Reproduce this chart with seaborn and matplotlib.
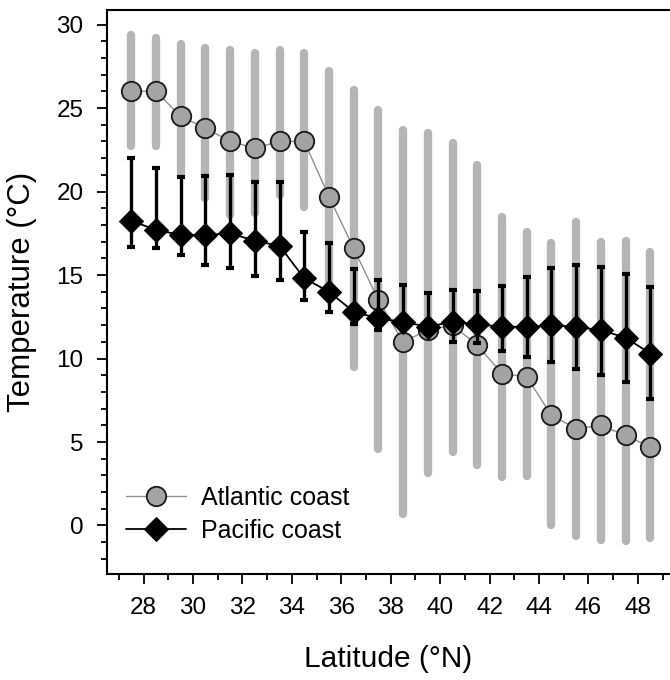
import numpy as np
import seaborn as sns
import matplotlib.pyplot as plt
from matplotlib.ticker import MultipleLocator

# Latitude bins (°N)
latitude = [27.5, 28.5, 29.5, 30.5, 31.5, 32.5, 33.5, 34.5, 35.5, 36.5, 37.5,
            38.5, 39.5, 40.5, 41.5, 42.5, 43.5, 44.5, 45.5, 46.5, 47.5, 48.5]

# Atlantic coast: mean and range
atl_mean = [26.0, 26.0, 24.5, 23.8, 23.0, 22.6, 23.0, 23.0, 19.7, 16.6, 13.5,
            11.0, 11.7, 12.0, 10.8, 9.1, 8.9, 6.6, 5.8, 6.0, 5.4, 4.7]
atl_max = [29.4, 29.2, 28.85, 28.6, 28.45, 28.3, 28.45, 28.3, 27.2, 26.1, 24.9,
           23.7, 23.5, 22.9, 21.6, 18.5, 17.6, 16.9, 18.2, 16.95, 17.05, 16.35]
atl_min = [22.7, 22.7, 21.1, 19.6, 18.6, 18.7, 19.8, 19.1, 14.2, 9.5, 4.6,
           0.66, 3.15, 4.4, 3.6, 2.9, 2.95, 0.0, -0.6, -0.84, -0.9, -0.74]

# Pacific coast: mean and range
pac_mean = [18.25, 17.7, 17.4, 17.4, 17.5, 17.05, 16.75, 14.8, 14.0, 12.8, 12.4,
            12.2, 11.9, 12.2, 12.05, 11.9, 11.9, 12.0, 11.9, 11.7, 11.25, 10.3]
pac_max = [22.0, 21.4, 20.9, 20.95, 21.0, 20.6, 20.55, 17.6, 16.9, 15.35, 14.7,
           14.4, 13.95, 14.1, 14.05, 14.35, 14.9, 15.4, 15.6, 15.5, 15.06, 14.3]
pac_min = [16.65, 16.6, 16.2, 15.6, 15.45, 14.95, 14.7, 13.5, 12.8, 12.07, 11.7,
           11.8, 11.5, 11.0, 10.9, 10.46, 10.1, 9.8, 9.4, 9.0, 8.6, 7.6]

sns.set_style('ticks')
plt.rcParams['font.family'] = ['Liberation Sans', 'DejaVu Sans']
plt.rcParams['text.color'] = 'black'
plt.rcParams['axes.labelcolor'] = 'black'
plt.rcParams['xtick.color'] = 'black'
plt.rcParams['ytick.color'] = 'black'

fig = plt.figure(figsize=(6.7, 6.8), dpi=100)
ax = fig.add_axes([0.159, 0.156, 0.841, 0.830])

lat = np.array(latitude)
pm = np.array(pac_mean)

# Atlantic range bars
ax.vlines(lat, atl_min, atl_max, color='#b5b5b5', linewidth=6, capstyle='round', zorder=1)

# Atlantic mean line
sns.lineplot(x=latitude, y=atl_mean, ax=ax, color='#8f8f8f', linewidth=1.0,
             marker='o', markersize=14, markerfacecolor='#a3a3a3',
             markeredgecolor='#1a1a1a', markeredgewidth=1.3, zorder=2,
             label='Atlantic coast')

# Pacific range bars
ax.errorbar(lat, pm, yerr=[pm - np.array(pac_min), np.array(pac_max) - pm],
            fmt='none', ecolor='black', elinewidth=2.4, capsize=3, capthick=3, zorder=3)

sns.lineplot(x=latitude, y=pac_mean, ax=ax, color='black', linewidth=1.3,
             marker='D', markersize=12, markerfacecolor='black',
             markeredgecolor='black', zorder=4, label='Pacific coast')

ax.set_xlim(26.5, 49.3)
ax.set_ylim(-2.9, 30.9)
ax.xaxis.set_major_locator(MultipleLocator(2))
ax.xaxis.set_minor_locator(MultipleLocator(1))
ax.yaxis.set_major_locator(MultipleLocator(5))
ax.yaxis.set_minor_locator(MultipleLocator(1))
ax.tick_params(which='major', direction='out', length=7.5, width=1.3, labelsize=17.5, pad=9)
ax.tick_params(which='minor', direction='out', length=4.5, width=1.3)

ax.spines['right'].set_visible(False)
for s in ['left', 'top', 'bottom']:
    ax.spines[s].set_linewidth(1.5)
    ax.spines[s].set_color('black')

ax.set_xlabel('Latitude (°N)', fontsize=21.5, labelpad=19)
ax.set_ylabel('Temperature (°C)', fontsize=22.5, labelpad=14)

ax.legend(loc='lower left', bbox_to_anchor=(-0.005, 0.015), frameon=False, fontsize=18,
          handlelength=2.4, handletextpad=0.6, labelspacing=0.35)

fig.savefig('out.png', dpi=100)
